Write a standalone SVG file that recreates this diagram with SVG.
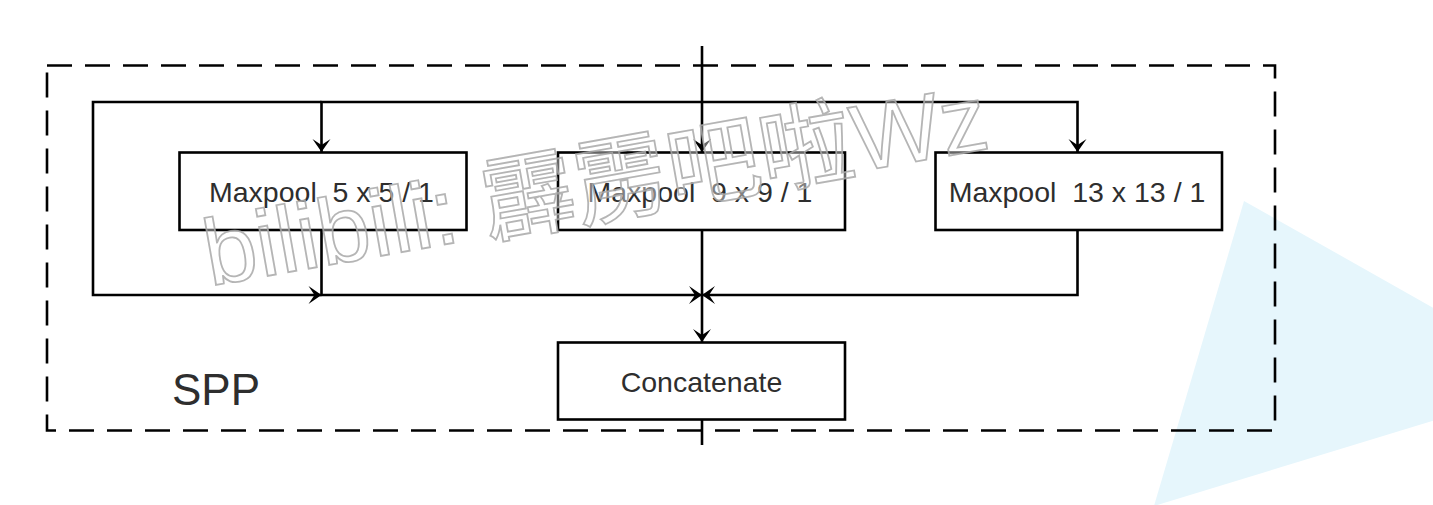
<svg xmlns="http://www.w3.org/2000/svg" width="1433" height="505" viewBox="0 0 1433 505">
<style>
.box{fill:#fff;stroke:#000;stroke-width:2.6}
.lbl{font-family:"Liberation Sans",Arial,sans-serif;font-size:28.5px;fill:#2e2e2e;text-anchor:middle;white-space:pre}
.wire{fill:none;stroke:#000;stroke-width:2.6}
.arr{marker-end:url(#ah)}
</style>
<defs>
<marker id="ah" markerUnits="userSpaceOnUse" markerWidth="16" markerHeight="22" viewBox="-14 -11 16 22" refX="0" refY="0" orient="auto">
<path d="M0,0 L-13,-9 L-7,0 L-13,9 Z" fill="#000"/>
</marker>
</defs>
<rect width="1433" height="505" fill="#fff"/>
<polygon points="1244,201 1563,381 1154,506" fill="#e6f6fc"/>
<rect id="spp-frame" x="47" y="65.5" width="1228" height="365" fill="none" stroke="#000" stroke-width="2.6" stroke-dasharray="25 13"/>
<text x="172" y="405" style="font-family:'Liberation Sans',Arial,sans-serif;font-size:44px;fill:#2e2e2e">SPP</text>
<g id="connectors">
<path class="wire arr" d="M702,46 V152"/>
<path class="wire arr" d="M702,102 H321.5 V152"/>
<path class="wire arr" d="M702,102 H1077.5 V152"/>
<path class="wire arr" d="M321.5,102 H93 V295 H321.5"/>
<path class="wire arr" d="M321.5,230 V295 H702"/>
<path class="wire arr" d="M1077.5,230 V295 H702"/>
<path class="wire arr" d="M702,230 V342"/>
<path class="wire" d="M702,420 V445"/>
</g>
<g id="maxpool5">
<rect class="box" x="179.5" y="152.5" width="287" height="77.5"/>
<text class="lbl" x="321.5" y="202">Maxpool  5 x 5 / 1</text>
</g>
<g id="maxpool9">
<rect class="box" x="558" y="152.5" width="287" height="77.5"/>
<text class="lbl" x="700" y="202">Maxpool  9 x 9 / 1</text>
</g>
<g id="maxpool13">
<rect class="box" x="935.5" y="152.5" width="286.5" height="77.5"/>
<text class="lbl" x="1077" y="202">Maxpool  13 x 13 / 1</text>
</g>
<g id="concatenate">
<rect class="box" x="558" y="342.5" width="287" height="77"/>
<text class="lbl" x="701.5" y="392">Concatenate</text>
</g>
<text transform="translate(210,286) rotate(-10)" x="0" y="0" style="font-family:'Liberation Sans','Noto Sans CJK SC',sans-serif;font-size:94px;fill:#ffffff;fill-opacity:0.4;stroke:#a8a8a8;stroke-opacity:0.85;stroke-width:1.8;white-space:pre">bilibili: 霹雳吧啦Wz</text>
</svg>
